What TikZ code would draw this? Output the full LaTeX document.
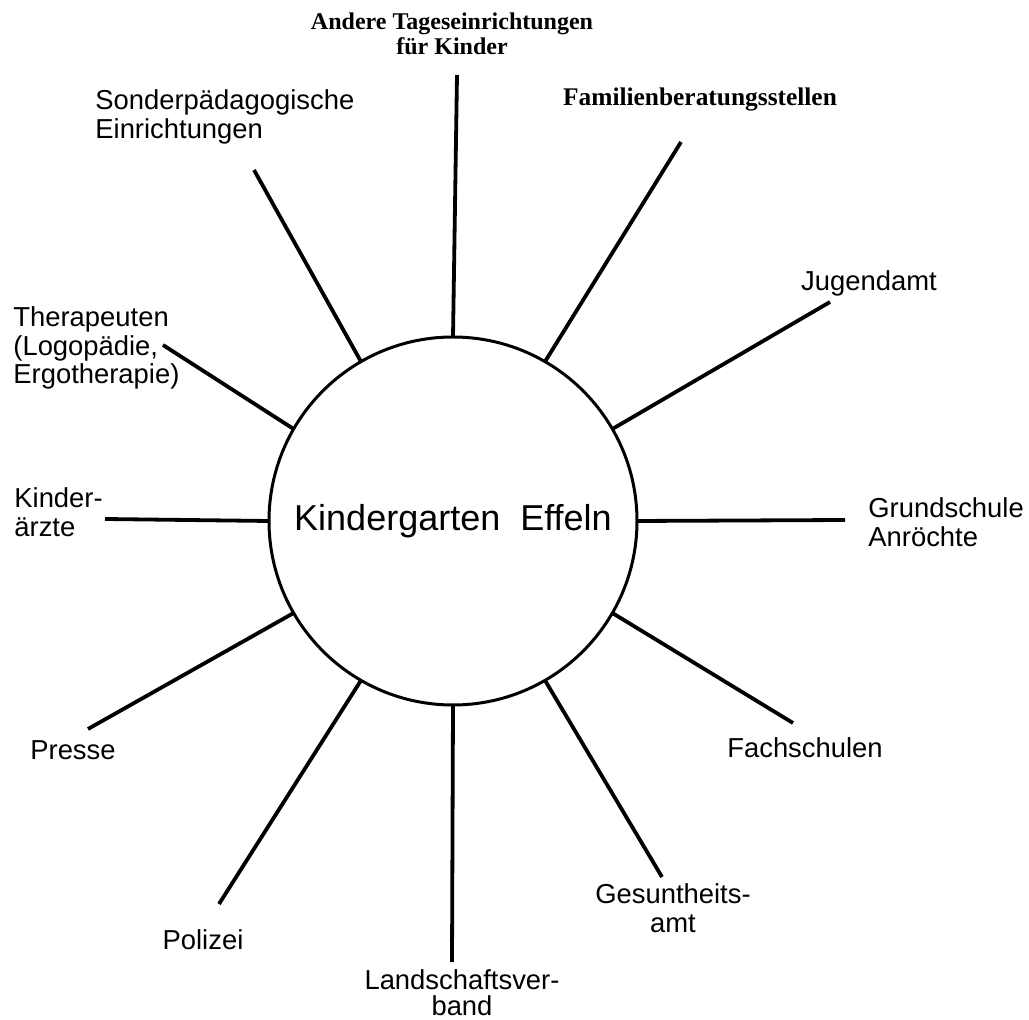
\documentclass[tikz,border=0pt]{standalone}
\usepackage{fontspec}
\setmainfont{Liberation Sans}
\newfontfamily\serifface{Liberation Serif}
\usetikzlibrary{positioning}

\begin{document}
\begin{tikzpicture}[
  x=0.5pt, y=-0.5pt,
  hub/.style={draw, circle, line width=1.5pt, minimum size=184pt, inner sep=0pt, outer sep=0pt,
    font=\fontsize{18}{20}\selectfont},
  spoke/.style={line width=1.9pt},
  lbl/.style={inner sep=0pt, align=left, font=\fontsize{13.7}{14.3}\selectfont},
  srf/.style={inner sep=0pt, align=center, font=\serifface\bfseries\fontsize{12}{12.5}\selectfont}
]
\useasboundingbox (0,0) rectangle (1029,1020);

% the kindergarten in the middle
\node[hub] (kg) at (453,521) {Kindergarten\ \ Effeln};

% free ends of the spokes
\coordinate (eTage)   at (457,75);
\coordinate (eFamil)  at (681,142);
\coordinate (eJugend) at (830,302);
\coordinate (eGrund)  at (845,520);
\coordinate (eFach)   at (793,723);
\coordinate (eGesund) at (662,877);
\coordinate (eLand)   at (452,962);
\coordinate (ePoliz)  at (219,904);
\coordinate (ePresse) at (88,729);
\coordinate (eKinder) at (105,519);
\coordinate (eThera)  at (163,345);
\coordinate (eSonder) at (254,170);

\draw[spoke] (kg.90)   -- (eTage);
\draw[spoke] (kg.60)   -- (eFamil);
\draw[spoke] (kg.30)   -- (eJugend);
\draw[spoke] (kg.0)    -- (eGrund);
\draw[spoke] (kg.-30)  -- (eFach);
\draw[spoke] (kg.-60)  -- (eGesund);
\draw[spoke] (kg.-90)  -- (eLand);
\draw[spoke] (kg.-120) -- (ePoliz);
\draw[spoke] (kg.-150) -- (ePresse);
\draw[spoke] (kg.180)  -- (eKinder);
\draw[spoke] (kg.150)  -- (eThera);
\draw[spoke] (kg.120)  -- (eSonder);

% labels
\node[srf] (tage) at (452,34) {Andere Tageseinrichtungen\\für Kinder};
\node[srf, font=\serifface\bfseries\fontsize{12.7}{13}\selectfont] (famil) at (700,100) {Familienberatungsstellen};
\node[lbl] (jugend) at (869,283) {Jugendamt};
\node[lbl, anchor=west] (grund) at (868,522) {Grundschule\\Anröchte};
\node[lbl] (fach) at (805,748) {Fachschulen};
\node[lbl, align=center] (gesund) at (673,908) {Gesuntheits-\\amt};
\node[lbl, align=center, font=\fontsize{13.7}{12.8}\selectfont] (land) at (462,993) {Landschaftsver-\\band};
\node[lbl] (poliz) at (203,940) {Polizei};
\node[lbl] (presse) at (73,750) {Presse};
\node[lbl, anchor=west] (kinder) at (14,512) {Kinder-\\ärzte};
\node[lbl, anchor=west] (thera) at (13,348) {Therapeuten\\(Logopädie,\\Ergotherapie)};
\node[lbl, anchor=west] (sonder) at (95,117) {Sonderpädagogische\\Einrichtungen};

\end{tikzpicture}
\end{document}
